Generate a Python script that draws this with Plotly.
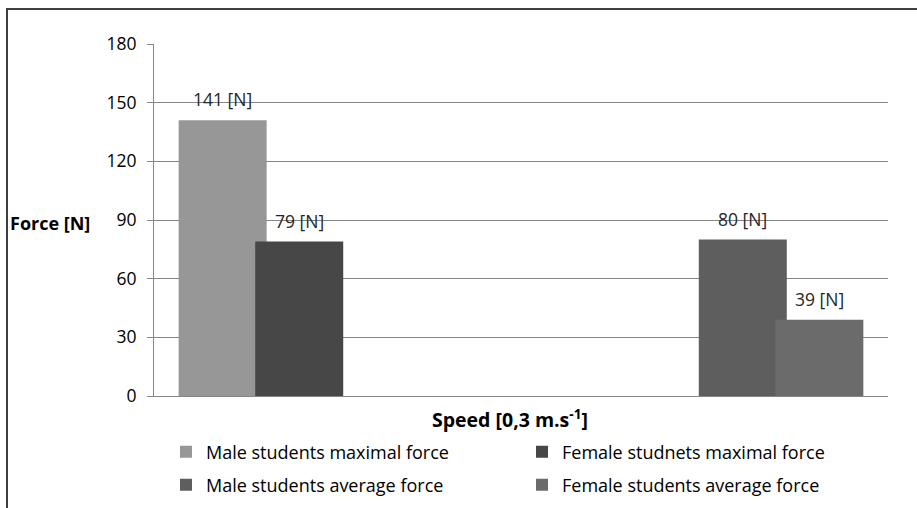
import plotly.graph_objects as go

# Two speed groups on the category axis; each series only has a value in one of them
groups = [0, 1]
series_names = [
    "Male students maximal force",
    "Female studnets maximal force",
    "Male students average force",
    "Female students average force",
]
male_max = [141, 0]
female_max = [79, 0]
male_avg = [0, 80]
female_avg = [0, 39]

series_values = [male_max, female_max, male_avg, female_avg]
series_colors = ["#979797", "#474747", "#5e5e5e", "#6b6b6b"]
series_legends = ["legend", "legend", "legend2", "legend2"]

W, H = 917, 508
L, R, T, B = 154, 29, 44, 112
plot_w = W - L - R
plot_h = H - T - B


def px_x(p):
    return (p - L) / plot_w


def px_y(p):
    return (H - B - p) / plot_h


FONT = "Open Sans"

# Clustered bars with a slight overlap between neighbours
bar_w = 0.2398
step = bar_w * 0.87
start = -(bar_w + 3 * step) / 2

fig = go.Figure()
annotations = []
for i, (name, vals, col, lg) in enumerate(
    zip(series_names, series_values, series_colors, series_legends)
):
    off = start + i * step
    fig.add_trace(
        go.Bar(
            x=groups,
            y=vals,
            name=name,
            marker=dict(color=col, line=dict(width=0)),
            width=bar_w,
            offset=off,
            legend=lg,
        )
    )
    for g, v in zip(groups, vals):
        if v:
            annotations.append(
                dict(
                    x=g + off + bar_w / 2,
                    y=v,
                    xref="x",
                    yref="y",
                    text=f"{v} [N]",
                    showarrow=False,
                    yanchor="bottom",
                    yshift=7,
                    font=dict(family=FONT, size=17.5, color="#262626"),
                )
            )

annotations.append(
    dict(
        x=px_x(92), y=90, xref="paper", yref="y",
        text="<b>Force [N]</b>", showarrow=False,
        xanchor="right", yanchor="middle", yshift=-3,
        font=dict(family=FONT, size=18, color="#000000"),
    )
)
annotations.append(
    dict(
        x=px_x(510), y=px_y(418), xref="paper", yref="paper",
        text="<b>Speed [0,3 m.s<sup>-1</sup>]</b>", showarrow=False,
        xanchor="center", yanchor="middle",
        font=dict(family=FONT, size=19.5, color="#000000"),
    )
)

legend_style = dict(
    orientation="h",
    xanchor="left",
    yanchor="middle",
    xref="container",
    yref="container",
    entrywidth=311,
    entrywidthmode="pixels",
    font=dict(family=FONT, size=18, color="#000000"),
    bgcolor="rgba(0,0,0,0)",
    traceorder="normal",
)

fig.update_layout(
    width=W,
    height=H,
    margin=dict(l=L, r=R, t=T, b=B, pad=0, autoexpand=False),
    paper_bgcolor="white",
    plot_bgcolor="white",
    barmode="overlay",
    showlegend=True,
    legend=dict(x=166 / W, y=1 - 452 / H, **legend_style),
    legend2=dict(x=166 / W, y=1 - 485 / H, **legend_style),
    annotations=annotations,
    xaxis=dict(
        range=[-0.5, 1.5],
        showticklabels=False,
        ticks="",
        showgrid=False,
        zeroline=False,
        showline=True,
        linecolor="#868686",
        linewidth=1,
    ),
    yaxis=dict(
        range=[0, 180],
        dtick=30,
        tick0=0,
        ticks="outside",
        ticklen=6,
        tickcolor="#868686",
        ticklabelstandoff=7,
        showgrid=True,
        gridcolor="#868686",
        gridwidth=1,
        zeroline=False,
        showline=True,
        linecolor="#868686",
        linewidth=1,
        tickfont=dict(family=FONT, size=17.5, color="#000000"),
    ),
    shapes=[
        # frame around the chart (left and top edges)
        dict(type="line", xref="paper", yref="paper",
             x0=px_x(7), x1=px_x(7), y0=px_y(8), y1=px_y(H + 2),
             line=dict(color="#404040", width=2)),
        dict(type="line", xref="paper", yref="paper",
             x0=px_x(6), x1=px_x(W + 2), y0=px_y(9), y1=px_y(9),
             line=dict(color="#404040", width=2)),
    ],
)

fig.write_html("out.html")
